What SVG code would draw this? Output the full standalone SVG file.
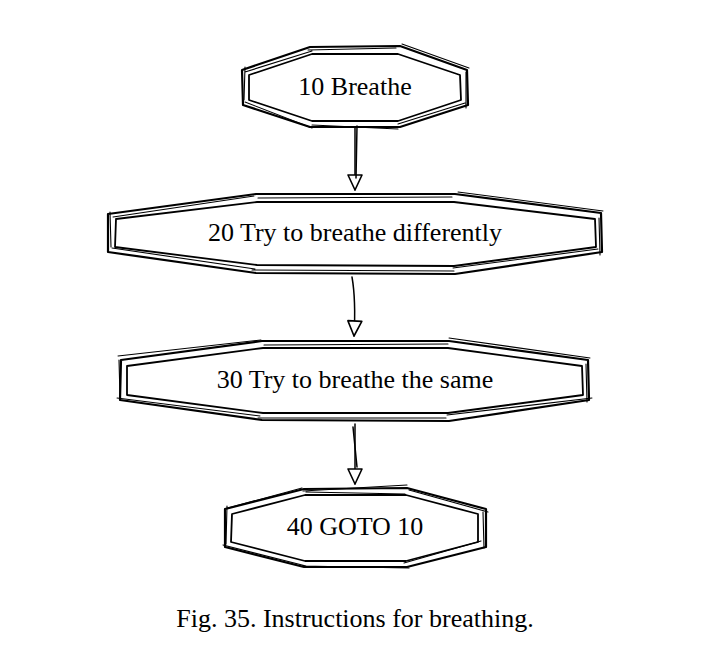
<svg xmlns="http://www.w3.org/2000/svg" width="707" height="669" viewBox="0 0 707 669">
<style>
.o{fill:none;stroke:#000;stroke-width:2.2;stroke-linejoin:round;stroke-linecap:round}
.o2{fill:none;stroke:#000;stroke-width:1.1;stroke-linecap:round}
.i{fill:none;stroke:#000;stroke-width:1.8;stroke-linejoin:round;stroke-linecap:round}
.t{font-family:"Liberation Serif","Times New Roman",serif;font-size:26px;fill:#000;text-anchor:middle}
.c{fill:none;stroke:#000;stroke-width:1.5;stroke-linecap:round}
</style>
<defs>
<marker id="ah" markerUnits="userSpaceOnUse" markerWidth="20" markerHeight="20" viewBox="-2 -9 20 18" refX="15" refY="0" orient="auto">
<path d="M0,-7 L15,0 L0,7 Z" fill="#fff" stroke="#000" stroke-width="1.6" stroke-linejoin="round"/>
</marker>
</defs>
<rect width="707" height="669" fill="#fff"/>
<g id="connectors">
<path class="c" d="M355,128 L355,190" marker-end="url(#ah)"/>
<path class="c" d="M357,126 L356,178"/>
<path class="c" d="M352,277 Q356,300 354,336" marker-end="url(#ah)"/>
<path class="c" d="M355,424 L355,484" marker-end="url(#ah)"/>
<path class="c" d="M353,427 L357,467"/>
</g>
<g id="node10">
<path class="o" d="M310,47 L400,46 L467,70 L468,105 L400,127 L310,127 L243,105 L242,70 Z"/>
<path class="o2" d="M308,50 L396,48 M402,44 L469,68 M466,72 L466,108 M398,124 L465,103 M312,125 L398,129 M245,102 L312,128 M245,67 L244,100 M245,72 L312,51"/>
<path class="i" d="M312,54 L398,54 L460,75 L461,100 L398,121 L312,121 L249,100 L249,75 Z"/>
<text class="t" x="355" y="95">10 Breathe</text>
</g>
<g id="node20">
<path class="o" d="M256,194 L455,194 L601,213 L602,252 L455,274 L256,273 L108,252 L108,214 Z"/>
<path class="o2" d="M258,198 L452,197 M458,192 L603,211 M599,218 L600,255 M453,268 L598,249 M252,270 L454,271 M112,248 L255,269 M110,212 L111,247 M113,217 L254,196"/>
<path class="i" d="M257,202 L454,202 L595,219 L596,247 L454,266 L257,265 L115,247 L116,219 Z"/>
<text class="t" x="355" y="241">20 Try to breathe differently</text>
</g>
<g id="node30">
<path class="o" d="M262,341 L449,341 L588,360 L589,400 L449,421 L262,420 L120,400 L121,360 Z"/>
<path class="o2" d="M264,345 L448,344 M449,338 L590,358 M586,364 L587,402 M447,415 L592,398 M258,418 L446,418 M117,398 L260,416 M119,360 L120,396 M118,356 L261,340"/>
<path class="i" d="M263,348 L448,348 L582,366 L583,395 L448,413 L263,413 L127,395 L127,366 Z"/>
<text class="t" x="355" y="388">30 Try to breathe the same</text>
</g>
<g id="node40">
<path class="o" d="M304,489 L407,488 L486,509 L486,547 L407,567 L304,567 L225,547 L225,509 Z"/>
<path class="o2" d="M306,492 L405,494 M303,491 L407,485 M409,490 L488,512 M483,512 L484,548 M404,563 L481,541 M302,566 L409,568 M223,545 L306,566 M227,506 L226,544 M228,508 L302,488"/>
<path class="i" d="M305,495 L406,495 L478,514 L478,542 L406,561 L305,561 L231,542 L232,514 Z"/>
<text class="t" x="355" y="535">40 GOTO 10</text>
</g>
<text id="caption" class="t" x="355" y="627">Fig. 35. Instructions for breathing.</text>
</svg>
